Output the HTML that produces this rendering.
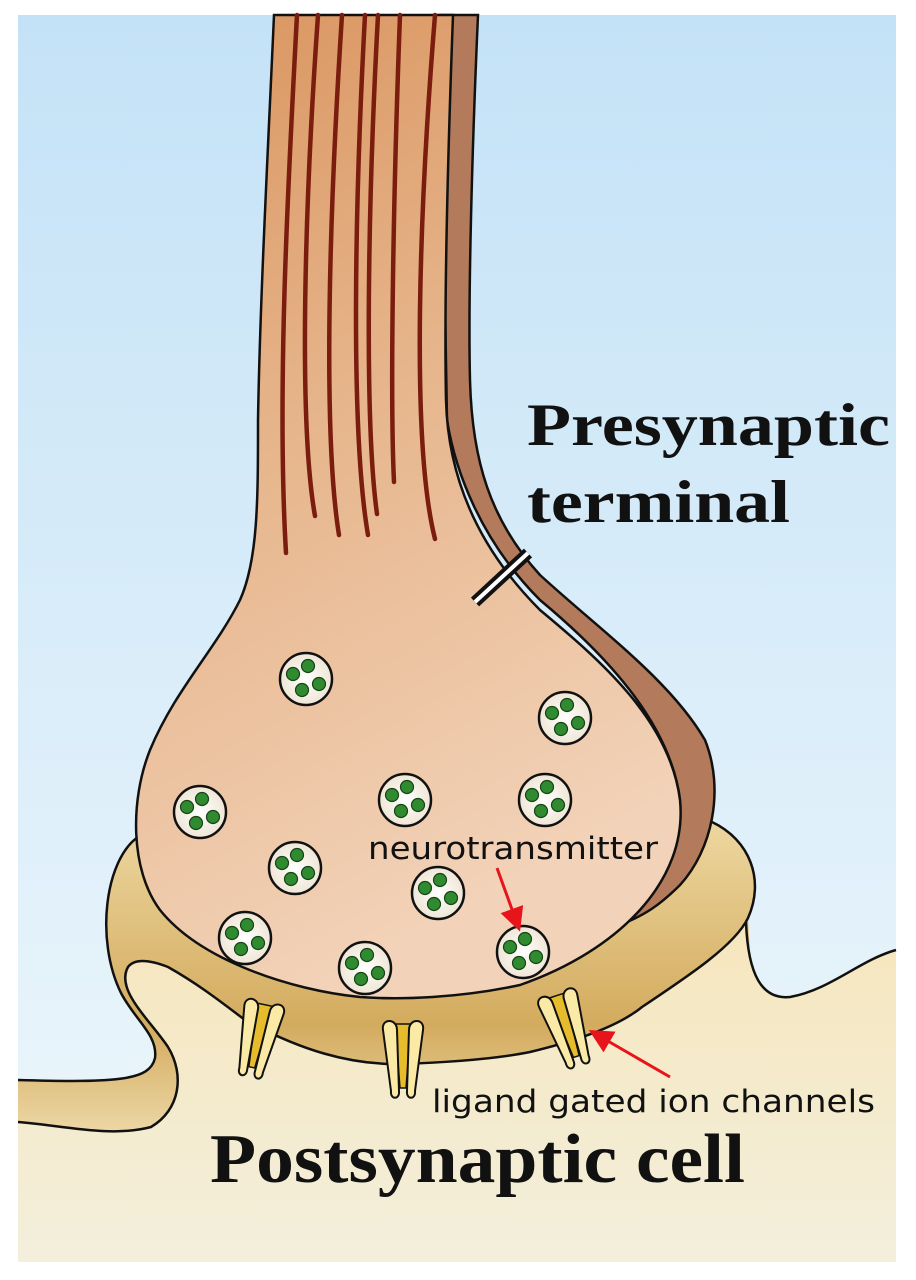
<!DOCTYPE html>
<html><head><meta charset="utf-8"><style>html,body{margin:0;padding:0;background:#fff}svg{display:block}</style></head>
<body>
<svg width="916" height="1280" viewBox="0 0 916 1280" xmlns="http://www.w3.org/2000/svg">
<defs>
<linearGradient id="bg" x1="0" y1="0" x2="0" y2="1"><stop offset="0" stop-color="#c4e2f7"/><stop offset="1" stop-color="#eef7fb"/></linearGradient>
<linearGradient id="post" x1="0" y1="0" x2="0" y2="1"><stop offset="0" stop-color="#f6e6bd"/><stop offset="1" stop-color="#f3efdc"/></linearGradient>
<linearGradient id="band" gradientUnits="userSpaceOnUse" x1="0" y1="830" x2="0" y2="1130"><stop offset="0" stop-color="#ecd59d"/><stop offset="0.65" stop-color="#d3ab5e"/><stop offset="1" stop-color="#ecd6a4"/></linearGradient>
<linearGradient id="axon" x1="0" y1="0" x2="0.3" y2="1"><stop offset="0" stop-color="#d9935d"/><stop offset="0.45" stop-color="#e6b48a"/><stop offset="1" stop-color="#f2d2b8"/></linearGradient>
<radialGradient id="ves" cx="0.5" cy="0.5" r="0.5"><stop offset="0" stop-color="#ffffff"/><stop offset="1" stop-color="#efe6d6"/></radialGradient>
<g id="v">
<circle r="26" fill="url(#ves)" stroke="#111" stroke-width="2.5"/>
<g fill="#2f8a30" stroke="#164416" stroke-width="1.2">
<circle cx="2" cy="-13" r="6.5"/><circle cx="-13" cy="-5" r="6.5"/><circle cx="13" cy="5" r="6.5"/><circle cx="-4" cy="11" r="6.5"/>
</g></g>
<g id="ch">
<path d="M-8,-34 L8,-34 L3,30 L-3,30 Z" fill="#e6bb2c" stroke="#111" stroke-width="1.5"/>
<path d="M-20,-28 C-22,-40 -6,-40 -6,-28 L-4,33 C-3,42 -13,42 -12,33 Z" fill="#fbeaa6" stroke="#111" stroke-width="2"/>
<path d="M20,-28 C22,-40 6,-40 6,-28 L4,33 C3,42 13,42 12,33 Z" fill="#fbeaa6" stroke="#111" stroke-width="2"/>
</g>
<marker id="ah" markerWidth="8" markerHeight="8" refX="6" refY="4" orient="auto" markerUnits="strokeWidth"><path d="M0,0 L8,4 L0,8 Z" fill="#e8141c"/></marker>
</defs>
<rect x="18" y="15" width="878" height="1247" fill="url(#bg)"/>
<!-- band fill -->
<path d="M138,837 C105,860 95,940 121,993 C135,1020 158,1035 155,1058 C150,1080 120,1083 18,1080 L18,1130 L760,1130 L748,918 C765,880 750,840 712,822 Z" fill="url(#band)"/>
<!-- postsynaptic -->
<path d="M18,1122 C60,1125 110,1138 151,1127 C180,1110 185,1075 168,1047 C150,1020 115,990 128,967 C135,958 150,960 168,967 C200,985 225,1005 245,1020 C300,1050 350,1065 400,1064 C460,1062 500,1058 530,1052 C580,1040 620,1025 642,1007 C690,975 735,945 746,920 C745,975 762,1000 790,997 C830,990 860,960 896,950 L896,1262 L18,1262 Z" fill="url(#post)"/>
<g fill="none" stroke="#111" stroke-width="2.5">
<path d="M18,1122 C60,1125 110,1138 151,1127 C180,1110 185,1075 168,1047 C150,1020 115,990 128,967 C135,958 150,960 168,967 C200,985 225,1005 245,1020 C300,1050 350,1065 400,1064 C460,1062 500,1058 530,1052 C580,1040 620,1025 642,1007 C690,975 735,945 748,918 C765,880 750,840 712,822"/>
<path d="M138,837 C105,860 95,940 121,993 C135,1020 158,1035 155,1058 C150,1080 120,1083 18,1080"/>
<path d="M746,922 C748,975 762,1000 790,997 C830,990 860,960 896,950"/>
</g>
<!-- dark strip -->
<path d="M440,15 L478,15 C472,150 468,300 470,380 C472,460 490,520 540,575 C600,630 670,680 705,740 C725,790 712,850 680,885 C660,905 645,915 620,925 L600,915 C640,880 670,840 680,800 C670,720 600,650 540,600 C480,540 455,470 447,420 Z" fill="#b37b5b" stroke="#111" stroke-width="2.5"/>
<!-- bulb -->
<path d="M274,15 L453,15 C448,150 444,300 446,400 C448,480 480,550 540,610 C600,660 670,720 680,800 C688,880 620,950 520,985 C460,998 400,1000 360,997 C290,990 200,960 160,910 C130,870 130,800 150,750 C175,690 215,650 240,600 C258,560 258,500 258,420 C260,300 268,150 274,15 Z" fill="url(#axon)" stroke="#111" stroke-width="2.5"/>
<!-- fibers -->
<g fill="none" stroke="#7a1c0e" stroke-width="4.5" stroke-linecap="round">
<path d="M297,15 C287,200 277,400 286,553"/>
<path d="M318,15 C305,200 298,420 315,516"/>
<path d="M342,15 C330,200 322,430 339,535"/>
<path d="M365,15 C355,200 350,430 368,535"/>
<path d="M378,15 C368,200 364,420 377,514"/>
<path d="M400,15 C393,200 390,400 394,482"/>
<path d="M435,15 C420,200 410,440 435,539"/>
</g>
<!-- marker -->
<line x1="475" y1="602" x2="528" y2="553" stroke="#111" stroke-width="12"/>
<line x1="475" y1="602" x2="528" y2="553" stroke="#fff" stroke-width="4"/>
<!-- vesicles -->
<use href="#v" x="306" y="679"/><use href="#v" x="565" y="718"/><use href="#v" x="200" y="812"/>
<use href="#v" x="405" y="800"/><use href="#v" x="545" y="800"/><use href="#v" x="295" y="868"/>
<use href="#v" x="438" y="893"/><use href="#v" x="245" y="938"/><use href="#v" x="365" y="968"/>
<use href="#v" x="523" y="952"/>
<!-- channels -->
<use href="#ch" transform="translate(258,1038) rotate(12)"/>
<use href="#ch" transform="translate(403,1058)"/>
<use href="#ch" transform="translate(567,1028) rotate(-18)"/>
<!-- arrows -->
<line x1="497" y1="868" x2="518" y2="926" stroke="#e8141c" stroke-width="3" marker-end="url(#ah)"/>
<line x1="670" y1="1077" x2="594" y2="1033" stroke="#e8141c" stroke-width="3" marker-end="url(#ah)"/>
<!-- text -->
<g font-family="Liberation Serif, serif" font-weight="bold" fill="#111">
<text x="527" y="445" font-size="60" textLength="363" lengthAdjust="spacingAndGlyphs">Presynaptic</text>
<text x="527" y="522" font-size="60" textLength="263" lengthAdjust="spacingAndGlyphs">terminal</text>
<text x="210" y="1182" font-size="70" textLength="535" lengthAdjust="spacingAndGlyphs">Postsynaptic cell</text>
</g>
<g font-family="DejaVu Sans, sans-serif" fill="#111">
<text x="368" y="859" font-size="31" textLength="290" lengthAdjust="spacingAndGlyphs">neurotransmitter</text>
<text x="432" y="1112" font-size="31" textLength="443" lengthAdjust="spacingAndGlyphs">ligand gated ion channels</text>
</g>
</svg>
</body></html>
